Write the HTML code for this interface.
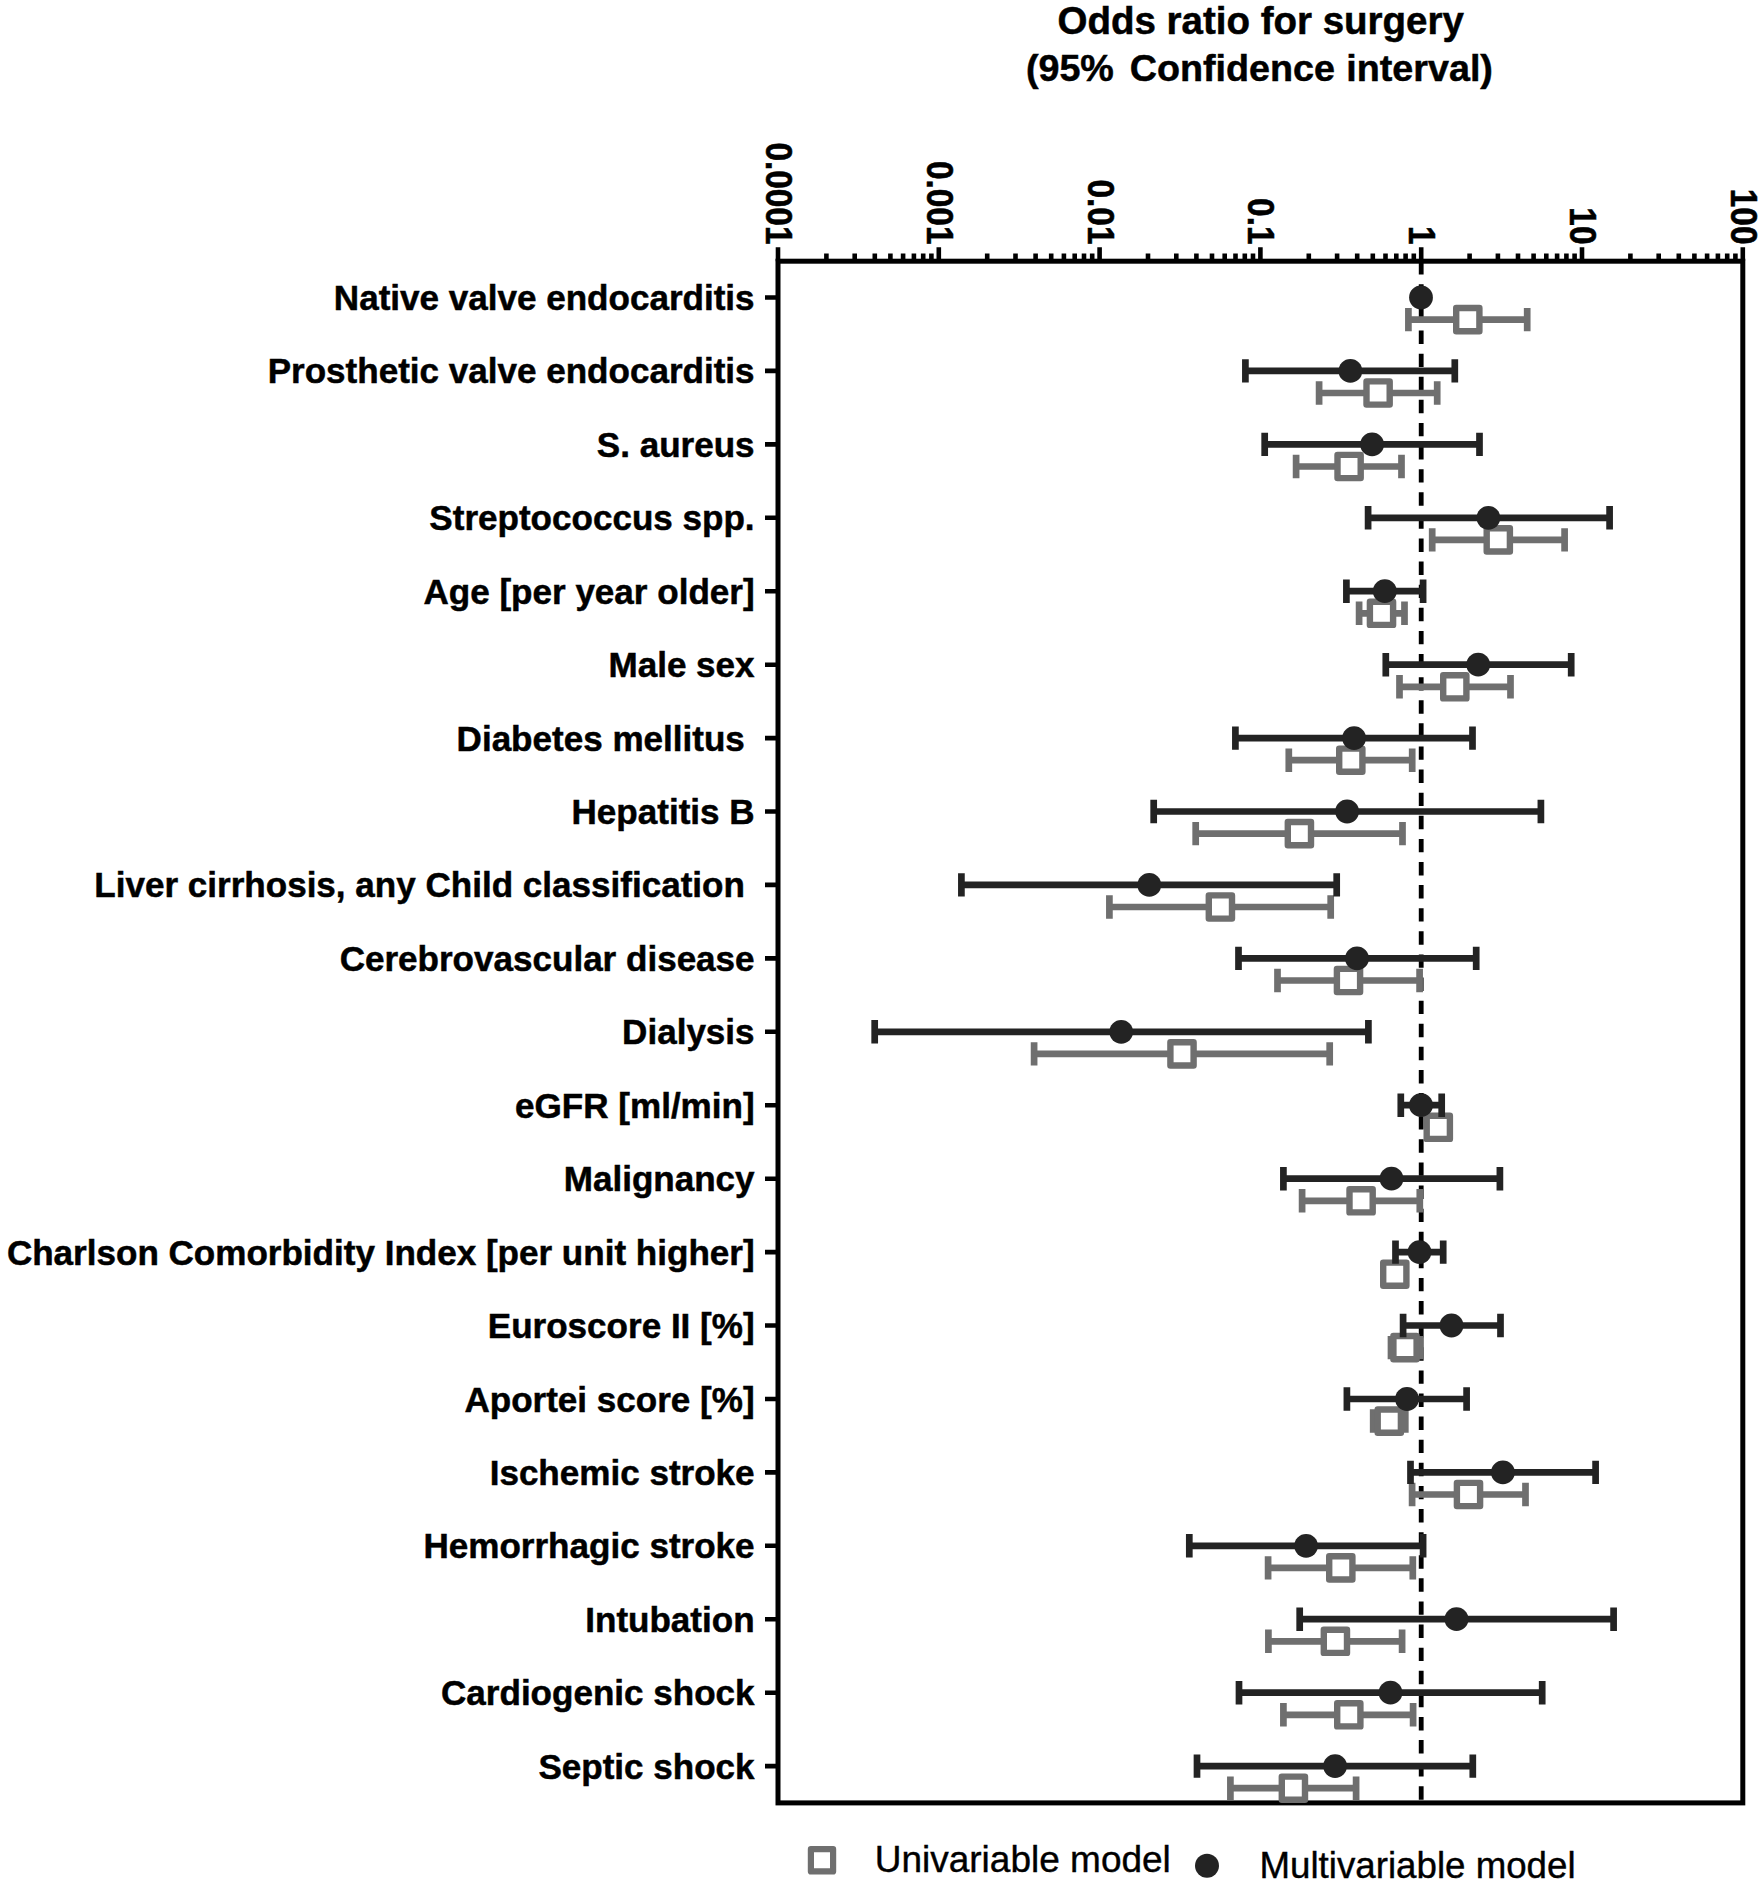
<!DOCTYPE html>
<html lang="en"><head><meta charset="utf-8"><title>Odds ratio for surgery</title>
<style>html,body{margin:0;padding:0;background:#fff}svg{display:block}text{font-family:"Liberation Sans",Arial,Helvetica,sans-serif}.b{font-weight:bold;fill:#000;stroke:#000;stroke-width:0.5px}.yl{font-size:35.05px;text-anchor:end}.xl{font-size:34.9px;text-anchor:end}.tt{font-size:38.5px;text-anchor:middle}.t2{font-size:37.7px}.lg{font-size:36.7px;fill:#000;stroke:#000;stroke-width:0.4px}</style></head><body>
<svg width="1763" height="1887" viewBox="0 0 1763 1887">
<rect width="1763" height="1887" fill="#fff"/>
<text class="b tt" x="1260.7" y="34.3">Odds ratio for surgery</text>
<text class="b t2" y="80.7"><tspan x="1025.9">(95%</tspan> <tspan x="1129.8">Confidence</tspan> <tspan x="1346.3">interval)</tspan></text>
<line x1="1421.2" y1="261.2" x2="1421.2" y2="1802.9" stroke="#000" stroke-width="4.8" stroke-dasharray="13.4 9.708"/>
<rect x="778.0" y="261.2" width="964.8" height="1541.7" fill="none" stroke="#000" stroke-width="5.0"/>
<path d="M778.0 261.2V247.3M826.4 261.2V253.6M854.7 261.2V253.6M874.8 261.2V253.6M890.4 261.2V253.6M903.1 261.2V253.6M913.9 261.2V253.6M923.2 261.2V253.6M931.4 261.2V253.6M938.8 261.2V247.3M987.2 261.2V253.6M1015.5 261.2V253.6M1035.6 261.2V253.6M1051.2 261.2V253.6M1063.9 261.2V253.6M1074.7 261.2V253.6M1084.0 261.2V253.6M1092.2 261.2V253.6M1099.6 261.2V247.3M1148.0 261.2V253.6M1176.3 261.2V253.6M1196.4 261.2V253.6M1212.0 261.2V253.6M1224.7 261.2V253.6M1235.5 261.2V253.6M1244.8 261.2V253.6M1253.0 261.2V253.6M1260.4 261.2V247.3M1308.8 261.2V253.6M1337.1 261.2V253.6M1357.2 261.2V253.6M1372.8 261.2V253.6M1385.5 261.2V253.6M1396.3 261.2V253.6M1405.6 261.2V253.6M1413.8 261.2V253.6M1421.2 261.2V247.3M1469.6 261.2V253.6M1497.9 261.2V253.6M1518.0 261.2V253.6M1533.6 261.2V253.6M1546.3 261.2V253.6M1557.1 261.2V253.6M1566.4 261.2V253.6M1574.6 261.2V253.6M1582.0 261.2V247.3M1630.4 261.2V253.6M1658.7 261.2V253.6M1678.8 261.2V253.6M1694.4 261.2V253.6M1707.1 261.2V253.6M1717.9 261.2V253.6M1727.2 261.2V253.6M1735.4 261.2V253.6M1742.8 261.2V247.3" stroke="#000" stroke-width="4.6" fill="none"/>
<text class="b xl" transform="translate(766.0 244.5) rotate(90) scale(0.957 1.07)">0.0001</text>
<text class="b xl" transform="translate(926.8 244.5) rotate(90) scale(0.957 1.07)">0.001</text>
<text class="b xl" transform="translate(1087.6 244.5) rotate(90) scale(0.957 1.07)">0.01</text>
<text class="b xl" transform="translate(1248.4 244.5) rotate(90) scale(0.957 1.07)">0.1</text>
<text class="b xl" transform="translate(1409.2 244.5) rotate(90) scale(0.957 1.07)">1</text>
<text class="b xl" transform="translate(1570.0 244.5) rotate(90) scale(0.957 1.07)">10</text>
<text class="b xl" transform="translate(1730.8 244.5) rotate(90) scale(0.957 1.07)">100</text>
<path d="M765 297.5H778.0M765 370.9H778.0M765 444.4H778.0M765 517.8H778.0M765 591.2H778.0M765 664.7H778.0M765 738.1H778.0M765 811.5H778.0M765 884.9H778.0M765 958.4H778.0M765 1031.8H778.0M765 1105.2H778.0M765 1178.7H778.0M765 1252.1H778.0M765 1325.5H778.0M765 1399.0H778.0M765 1472.4H778.0M765 1545.8H778.0M765 1619.2H778.0M765 1692.7H778.0M765 1766.1H778.0" stroke="#000" stroke-width="4.6" fill="none"/>
<text class="b yl" transform="translate(754.6 310.0) scale(1 1.0)" xml:space="preserve">Native valve endocarditis</text>
<text class="b yl" transform="translate(754.6 383.4) scale(1 1.0)" xml:space="preserve">Prosthetic valve endocarditis</text>
<text class="b yl" transform="translate(754.6 456.9) scale(1 1.0)" xml:space="preserve">S. aureus</text>
<text class="b yl" transform="translate(754.6 530.3) scale(1 1.0)" xml:space="preserve">Streptococcus spp.</text>
<text class="b yl" transform="translate(754.6 603.7) scale(1 1.0)" xml:space="preserve">Age [per year older]</text>
<text class="b yl" transform="translate(754.6 677.2) scale(1 1.0)" xml:space="preserve">Male sex</text>
<text class="b yl" transform="translate(754.6 750.6) scale(1 1.0)" xml:space="preserve">Diabetes mellitus </text>
<text class="b yl" transform="translate(754.6 824.0) scale(1 1.0)" xml:space="preserve">Hepatitis B</text>
<text class="b yl" transform="translate(754.6 897.4) scale(1 1.0)" xml:space="preserve">Liver cirrhosis, any Child classification </text>
<text class="b yl" transform="translate(754.6 970.9) scale(1 1.0)" xml:space="preserve">Cerebrovascular disease</text>
<text class="b yl" transform="translate(754.6 1044.3) scale(1 1.0)" xml:space="preserve">Dialysis</text>
<text class="b yl" transform="translate(754.6 1117.7) scale(1 1.0)" xml:space="preserve">eGFR [ml/min]</text>
<text class="b yl" transform="translate(754.6 1191.2) scale(1 1.0)" xml:space="preserve">Malignancy</text>
<text class="b yl" transform="translate(754.6 1264.6) scale(1 1.0)" xml:space="preserve">Charlson Comorbidity Index [per unit higher]</text>
<text class="b yl" transform="translate(754.6 1338.0) scale(1 1.0)" xml:space="preserve">Euroscore II [%]</text>
<text class="b yl" transform="translate(754.6 1411.5) scale(1 1.0)" xml:space="preserve">Aportei score [%]</text>
<text class="b yl" transform="translate(754.6 1484.9) scale(1 1.0)" xml:space="preserve">Ischemic stroke</text>
<text class="b yl" transform="translate(754.6 1558.3) scale(1 1.0)" xml:space="preserve">Hemorrhagic stroke</text>
<text class="b yl" transform="translate(754.6 1631.7) scale(1 1.0)" xml:space="preserve">Intubation</text>
<text class="b yl" transform="translate(754.6 1705.2) scale(1 1.0)" xml:space="preserve">Cardiogenic shock</text>
<text class="b yl" transform="translate(754.6 1778.6) scale(1 1.0)" xml:space="preserve">Septic shock</text>
<path d="M1408.4 319.6H1527.2M1408.4 307.9V331.3M1527.2 307.9V331.3" stroke="#6f6f6f" stroke-width="6.7" fill="none"/>
<rect x="1456.2" y="308.0" width="23.2" height="23.2" fill="#fff" stroke="#6f6f6f" stroke-width="6.4" stroke-linejoin="round"/>
<path d="M1319.1 393.0H1437.2M1319.1 381.3V404.7M1437.2 381.3V404.7" stroke="#6f6f6f" stroke-width="6.7" fill="none"/>
<rect x="1366.5" y="381.4" width="23.2" height="23.2" fill="#fff" stroke="#6f6f6f" stroke-width="6.4" stroke-linejoin="round"/>
<path d="M1296.1 466.5H1401.5M1296.1 454.8V478.2M1401.5 454.8V478.2" stroke="#6f6f6f" stroke-width="6.7" fill="none"/>
<rect x="1337.5" y="454.9" width="23.2" height="23.2" fill="#fff" stroke="#6f6f6f" stroke-width="6.4" stroke-linejoin="round"/>
<path d="M1432.2 539.9H1564.6M1432.2 528.2V551.6M1564.6 528.2V551.6" stroke="#6f6f6f" stroke-width="6.7" fill="none"/>
<rect x="1486.7" y="528.3" width="23.2" height="23.2" fill="#fff" stroke="#6f6f6f" stroke-width="6.4" stroke-linejoin="round"/>
<path d="M1359.1 613.3H1404.5M1359.1 601.6V625.0M1404.5 601.6V625.0" stroke="#6f6f6f" stroke-width="6.7" fill="none"/>
<rect x="1369.9" y="601.7" width="23.2" height="23.2" fill="#fff" stroke="#6f6f6f" stroke-width="6.4" stroke-linejoin="round"/>
<path d="M1399.5 686.8H1510.5M1399.5 675.1V698.5M1510.5 675.1V698.5" stroke="#6f6f6f" stroke-width="6.7" fill="none"/>
<rect x="1443.2" y="675.2" width="23.2" height="23.2" fill="#fff" stroke="#6f6f6f" stroke-width="6.4" stroke-linejoin="round"/>
<path d="M1288.8 760.2H1412.2M1288.8 748.5V771.9M1412.2 748.5V771.9" stroke="#6f6f6f" stroke-width="6.7" fill="none"/>
<rect x="1339.2" y="748.6" width="23.2" height="23.2" fill="#fff" stroke="#6f6f6f" stroke-width="6.4" stroke-linejoin="round"/>
<path d="M1195.7 833.6H1402.5M1195.7 821.9V845.3M1402.5 821.9V845.3" stroke="#6f6f6f" stroke-width="6.7" fill="none"/>
<rect x="1287.8" y="822.0" width="23.2" height="23.2" fill="#fff" stroke="#6f6f6f" stroke-width="6.4" stroke-linejoin="round"/>
<path d="M1109.4 907.0H1330.7M1109.4 895.3V918.7M1330.7 895.3V918.7" stroke="#6f6f6f" stroke-width="6.7" fill="none"/>
<rect x="1208.8" y="895.4" width="23.2" height="23.2" fill="#fff" stroke="#6f6f6f" stroke-width="6.4" stroke-linejoin="round"/>
<path d="M1277.5 980.5H1419.6M1277.5 968.8V992.2M1419.6 968.8V992.2" stroke="#6f6f6f" stroke-width="6.7" fill="none"/>
<rect x="1336.9" y="968.9" width="23.2" height="23.2" fill="#fff" stroke="#6f6f6f" stroke-width="6.4" stroke-linejoin="round"/>
<path d="M1034.1 1053.9H1329.7M1034.1 1042.2V1065.6M1329.7 1042.2V1065.6" stroke="#6f6f6f" stroke-width="6.7" fill="none"/>
<rect x="1170.4" y="1042.3" width="23.2" height="23.2" fill="#fff" stroke="#6f6f6f" stroke-width="6.4" stroke-linejoin="round"/>
<rect x="1426.7" y="1115.7" width="23.2" height="23.2" fill="#fff" stroke="#6f6f6f" stroke-width="6.4" stroke-linejoin="round"/>
<path d="M1302.1 1200.8H1419.8M1302.1 1189.1V1212.5M1419.8 1189.1V1212.5" stroke="#6f6f6f" stroke-width="6.7" fill="none"/>
<rect x="1349.5" y="1189.2" width="23.2" height="23.2" fill="#fff" stroke="#6f6f6f" stroke-width="6.4" stroke-linejoin="round"/>
<rect x="1383.2" y="1262.6" width="23.2" height="23.2" fill="#fff" stroke="#6f6f6f" stroke-width="6.4" stroke-linejoin="round"/>
<path d="M1391.0 1347.6H1420.5M1391.0 1335.9V1359.3M1420.5 1335.9V1359.3" stroke="#6f6f6f" stroke-width="6.7" fill="none"/>
<rect x="1393.4" y="1336.0" width="23.2" height="23.2" fill="#fff" stroke="#6f6f6f" stroke-width="6.4" stroke-linejoin="round"/>
<path d="M1373.2 1421.0H1405.3M1373.2 1409.3V1432.8M1405.3 1409.3V1432.8" stroke="#6f6f6f" stroke-width="6.7" fill="none"/>
<rect x="1377.7" y="1409.5" width="23.2" height="23.2" fill="#fff" stroke="#6f6f6f" stroke-width="6.4" stroke-linejoin="round"/>
<path d="M1412.1 1494.5H1525.5M1412.1 1482.8V1506.2M1525.5 1482.8V1506.2" stroke="#6f6f6f" stroke-width="6.7" fill="none"/>
<rect x="1456.9" y="1482.9" width="23.2" height="23.2" fill="#fff" stroke="#6f6f6f" stroke-width="6.4" stroke-linejoin="round"/>
<path d="M1268.1 1567.9H1412.8M1268.1 1556.2V1579.6M1412.8 1556.2V1579.6" stroke="#6f6f6f" stroke-width="6.7" fill="none"/>
<rect x="1329.2" y="1556.3" width="23.2" height="23.2" fill="#fff" stroke="#6f6f6f" stroke-width="6.4" stroke-linejoin="round"/>
<path d="M1268.4 1641.3H1402.1M1268.4 1629.6V1653.0M1402.1 1629.6V1653.0" stroke="#6f6f6f" stroke-width="6.7" fill="none"/>
<rect x="1323.8" y="1629.7" width="23.2" height="23.2" fill="#fff" stroke="#6f6f6f" stroke-width="6.4" stroke-linejoin="round"/>
<path d="M1283.4 1714.8H1413.1M1283.4 1703.1V1726.5M1413.1 1703.1V1726.5" stroke="#6f6f6f" stroke-width="6.7" fill="none"/>
<rect x="1337.2" y="1703.2" width="23.2" height="23.2" fill="#fff" stroke="#6f6f6f" stroke-width="6.4" stroke-linejoin="round"/>
<path d="M1230.4 1788.2H1356.1M1230.4 1776.5V1799.9M1356.1 1776.5V1799.9" stroke="#6f6f6f" stroke-width="6.7" fill="none"/>
<rect x="1281.8" y="1776.6" width="23.2" height="23.2" fill="#fff" stroke="#6f6f6f" stroke-width="6.4" stroke-linejoin="round"/>
<circle cx="1421.0" cy="297.5" r="11.9" fill="#232323"/>
<path d="M1245.4 370.9H1454.8M1245.4 359.2V382.6M1454.8 359.2V382.6" stroke="#232323" stroke-width="6.7" fill="none"/>
<circle cx="1350.4" cy="370.9" r="11.9" fill="#232323"/>
<path d="M1264.7 444.4H1479.5M1264.7 432.7V456.1M1479.5 432.7V456.1" stroke="#232323" stroke-width="6.7" fill="none"/>
<circle cx="1372.1" cy="444.4" r="11.9" fill="#232323"/>
<path d="M1368.1 517.8H1609.6M1368.1 506.1V529.5M1609.6 506.1V529.5" stroke="#232323" stroke-width="6.7" fill="none"/>
<circle cx="1488.4" cy="517.8" r="11.9" fill="#232323"/>
<path d="M1346.4 591.2H1423.1M1346.4 579.5V602.9M1423.1 579.5V602.9" stroke="#232323" stroke-width="6.7" fill="none"/>
<circle cx="1384.8" cy="591.2" r="11.9" fill="#232323"/>
<path d="M1385.8 664.7H1571.2M1385.8 653.0V676.4M1571.2 653.0V676.4" stroke="#232323" stroke-width="6.7" fill="none"/>
<circle cx="1478.2" cy="664.7" r="11.9" fill="#232323"/>
<path d="M1235.4 738.1H1472.5M1235.4 726.4V749.8M1472.5 726.4V749.8" stroke="#232323" stroke-width="6.7" fill="none"/>
<circle cx="1354.1" cy="738.1" r="11.9" fill="#232323"/>
<path d="M1153.7 811.5H1540.9M1153.7 799.8V823.2M1540.9 799.8V823.2" stroke="#232323" stroke-width="6.7" fill="none"/>
<circle cx="1347.1" cy="811.5" r="11.9" fill="#232323"/>
<path d="M961.4 884.9H1336.7M961.4 873.2V896.6M1336.7 873.2V896.6" stroke="#232323" stroke-width="6.7" fill="none"/>
<circle cx="1149.3" cy="884.9" r="11.9" fill="#232323"/>
<path d="M1238.5 958.4H1476.2M1238.5 946.7V970.1M1476.2 946.7V970.1" stroke="#232323" stroke-width="6.7" fill="none"/>
<circle cx="1357.0" cy="958.4" r="11.9" fill="#232323"/>
<path d="M874.7 1031.8H1368.4M874.7 1020.1V1043.5M1368.4 1020.1V1043.5" stroke="#232323" stroke-width="6.7" fill="none"/>
<circle cx="1121.2" cy="1031.8" r="11.9" fill="#232323"/>
<path d="M1400.8 1105.2H1441.7M1400.8 1093.5V1116.9M1441.7 1093.5V1116.9" stroke="#232323" stroke-width="6.7" fill="none"/>
<circle cx="1421.0" cy="1105.2" r="11.9" fill="#232323"/>
<path d="M1283.4 1178.7H1499.9M1283.4 1167.0V1190.4M1499.9 1167.0V1190.4" stroke="#232323" stroke-width="6.7" fill="none"/>
<circle cx="1391.5" cy="1178.7" r="11.9" fill="#232323"/>
<path d="M1395.5 1252.1H1443.2M1395.5 1240.4V1263.8M1443.2 1240.4V1263.8" stroke="#232323" stroke-width="6.7" fill="none"/>
<circle cx="1419.5" cy="1252.1" r="11.9" fill="#232323"/>
<path d="M1403.1 1325.5H1500.5M1403.1 1313.8V1337.2M1500.5 1313.8V1337.2" stroke="#232323" stroke-width="6.7" fill="none"/>
<circle cx="1451.5" cy="1325.5" r="11.9" fill="#232323"/>
<path d="M1346.9 1399.0H1466.6M1346.9 1387.2V1410.7M1466.6 1387.2V1410.7" stroke="#232323" stroke-width="6.7" fill="none"/>
<circle cx="1407.0" cy="1399.0" r="11.9" fill="#232323"/>
<path d="M1410.5 1472.4H1595.6M1410.5 1460.7V1484.1M1595.6 1460.7V1484.1" stroke="#232323" stroke-width="6.7" fill="none"/>
<circle cx="1502.9" cy="1472.4" r="11.9" fill="#232323"/>
<path d="M1189.3 1545.8H1423.1M1189.3 1534.1V1557.5M1423.1 1534.1V1557.5" stroke="#232323" stroke-width="6.7" fill="none"/>
<circle cx="1306.1" cy="1545.8" r="11.9" fill="#232323"/>
<path d="M1299.7 1619.2H1613.6M1299.7 1607.5V1630.9M1613.6 1607.5V1630.9" stroke="#232323" stroke-width="6.7" fill="none"/>
<circle cx="1456.5" cy="1619.2" r="11.9" fill="#232323"/>
<path d="M1239.0 1692.7H1542.2M1239.0 1681.0V1704.4M1542.2 1681.0V1704.4" stroke="#232323" stroke-width="6.7" fill="none"/>
<circle cx="1390.5" cy="1692.7" r="11.9" fill="#232323"/>
<path d="M1197.0 1766.1H1472.8M1197.0 1754.4V1777.8M1472.8 1754.4V1777.8" stroke="#232323" stroke-width="6.7" fill="none"/>
<circle cx="1335.1" cy="1766.1" r="11.9" fill="#232323"/>
<rect x="810.9" y="1849.2" width="22.2" height="22.2" fill="#fff" stroke="#6f6f6f" stroke-width="6.2" stroke-linejoin="round"/>
<text class="lg" style="font-size:37px" transform="translate(874.7 1871.5) scale(1 1.0)">Univariable model</text>
<circle cx="1207" cy="1865.7" r="12" fill="#232323"/>
<text class="lg" transform="translate(1259.5 1878.3) scale(1 1.0)">Multivariable model</text>
</svg></body></html>
